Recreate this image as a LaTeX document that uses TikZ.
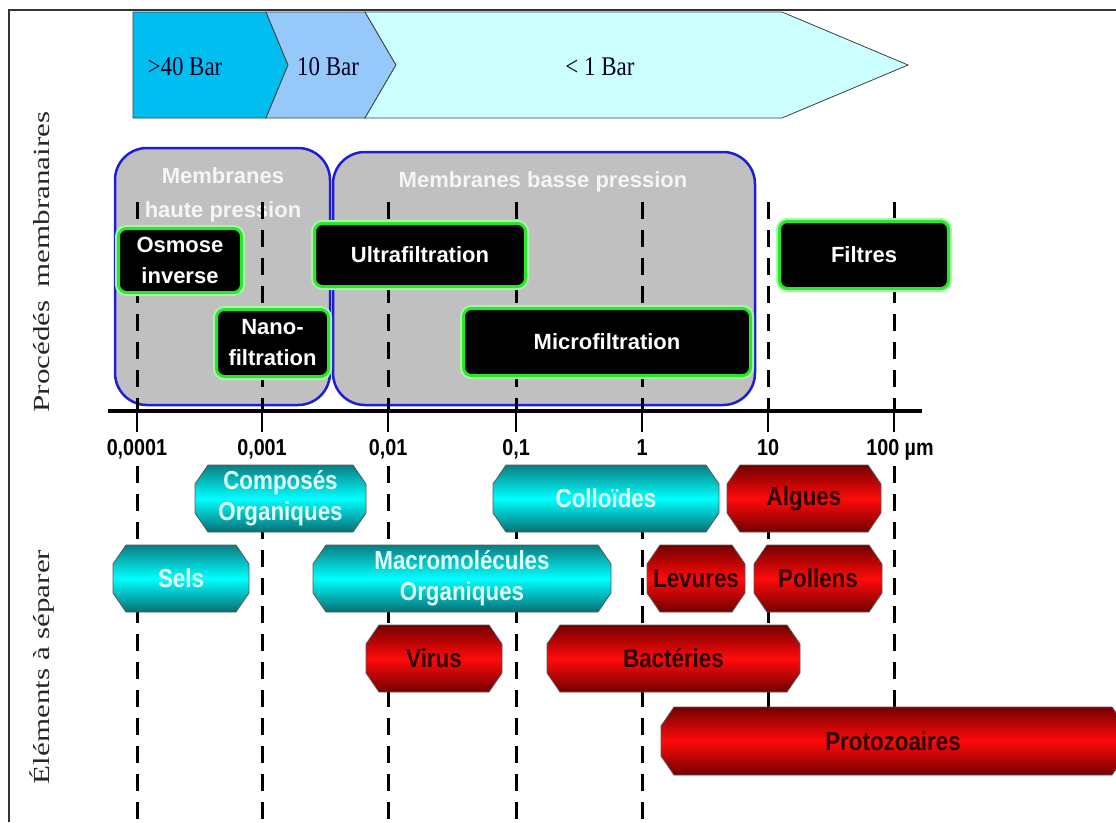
\documentclass[tikz,border=0pt]{standalone}
\usepackage{fontspec}
\setmainfont{Liberation Serif}
\setsansfont{Liberation Sans}
\newfontfamily\elemfont{Liberation Sans}[FakeStretch=0.86]
\newfontfamily\barfont{Liberation Serif}[FakeStretch=0.85]
\newfontfamily\sidefont{Liberation Serif}[FakeStretch=1.35]
\definecolor{cforty}{RGB}{0,190,240}
\definecolor{cten}{RGB}{150,200,250}
\definecolor{cone}{RGB}{204,255,255}
\definecolor{memgray}{RGB}{192,192,192}
\definecolor{memblue}{RGB}{30,30,210}
\definecolor{glowgreen}{RGB}{40,230,40}
\definecolor{cyantop}{RGB}{10,125,130}
\definecolor{cyanbot}{RGB}{8,110,115}
\definecolor{cyanmid}{RGB}{0,255,255}
\definecolor{cyantext}{RGB}{225,255,255}
\definecolor{redtop}{RGB}{115,0,0}
\definecolor{redmid}{RGB}{255,10,10}
\definecolor{redtext}{RGB}{45,0,0}
\newcommand\elem[7]{%
  \path[#6] (#2+13,#3) -- (#4-13,#3) -- (#4,#3+19) -- (#4,#5-19) -- (#4-13,#5) -- (#2+13,#5) -- (#2,#5-19) -- (#2,#3+19) -- cycle;
  \node[#6 text] (#1) at ({(#2+#4)/2},{(#3+#5)/2}) {#7};
}
\begin{document}
\begin{tikzpicture}[x=1pt,y=-1pt,
  barseg/.style={draw=black!75, line width=0.8pt},
  bartext/.style={font=\barfont\fontsize{27}{27}\selectfont, text=black!85!blue},
  sidetext/.style={font=\sidefont\fontsize{23}{23}\selectfont, rotate=90, text=black!85},
  membox/.style={fill=memgray, draw=memblue, line width=2.5pt, rounded corners=32pt},
  memtext/.style={font=\sffamily\bfseries\fontsize{22}{34}\selectfont, text=white!96!black, align=center},
  procbox/.style={fill=black, draw=glowgreen, line width=3pt, rounded corners=8pt, text=white,
    font=\sffamily\bfseries\fontsize{22}{31}\selectfont, align=center, inner sep=0pt,
    preaction={draw=glowgreen!40, line width=7pt}},
  vdash/.style={line width=3pt, dash pattern=on 17pt off 11pt},
  tick/.style={line width=2.5pt},
  axislabel/.style={font=\elemfont\bfseries\fontsize{23}{23}\selectfont, anchor=base},
  cyanel/.style={top color=cyantop, bottom color=cyanbot, middle color=cyanmid, draw=black!65, line width=0.8pt},
  redel/.style={top color=redtop, bottom color=redtop, middle color=redmid, draw=black!65, line width=0.8pt},
  cyanel text/.style={font=\elemfont\bfseries\fontsize{26}{31}\selectfont, text=cyantext, align=center},
  redel text/.style={font=\elemfont\bfseries\fontsize{26}{31}\selectfont, text=redtext, align=center}
]
\useasboundingbox (0,0) rectangle (1116,822);
\clip (0,0) rectangle (1116,822);
\fill[white] (0,0) rectangle (1116,822);

% pressure bar
\path[barseg, fill=cforty] (133,12) -- (266,12) -- (288,65) -- (266,118) -- (133,118) -- cycle;
\path[barseg, fill=cten] (266,12) -- (365,12) -- (396,65) -- (365,118) -- (266,118) -- (288,65) -- cycle;
\path[barseg, fill=cone] (365,12) -- (782,12) -- (908,65) -- (782,118) -- (365,118) -- (396,65) -- cycle;
\node[bartext] (p40) at (185,67) {>40 Bar};
\node[bartext] (p10) at (328,67) {10 Bar};
\node[bartext] (p1) at (600,67) {< 1 Bar};

% frame
\draw[line width=2pt, black!80] (9,822) -- (9,10) -- (1116,10);

% side labels
\node[sidetext] (lproc) at (42,262) {Procédés\hspace{5pt} membranaires};
\node[sidetext] (lelem) at (42,667) {Éléments à séparer};

% membrane families
\draw[membox] (115,148) rectangle (330,405);
\draw[membox] (333,152) rectangle (755,405);
\node[memtext] (mhp) at (223,195) {Membranes\\haute pression};
\node[memtext] (mbp) at (543,182) {Membranes basse pression};

% upper dashed lines and ticks
\foreach \x in {137,262,388,516,642,768,894}{
  \draw[vdash] (\x,202) -- (\x,411);
  \draw[tick] (\x,400) -- (\x,432);
}
\draw[line width=4pt] (108,411) -- (922,411);

% processes
\node[procbox, minimum width=123pt, minimum height=64pt] (osm) at (180,260.5) {Osmose\\inverse};
\node[procbox, minimum width=112pt, minimum height=67pt] (nano) at (272.5,343) {Nano-\\filtration};
\node[procbox, minimum width=211pt, minimum height=63pt] (ultra) at (420,255) {Ultrafiltration};
\node[procbox, minimum width=287pt, minimum height=67pt] (micro) at (607,342) {Microfiltration};
\node[procbox, minimum width=169pt, minimum height=67pt] (filt) at (864,255) {Filtres};

% axis labels
\node[axislabel] (a1) at (137,455) {0,0001};
\node[axislabel] (a2) at (262,455) {0,001};
\node[axislabel] (a3) at (388,455) {0,01};
\node[axislabel] (a4) at (516,455) {0,1};
\node[axislabel] (a5) at (642,455) {1};
\node[axislabel] (a6) at (768,455) {10};
\node[axislabel] (a7) at (900,455) {100 µm};

% lower dashed lines
\foreach \x in {137,262,388,516,642}{
  \draw[vdash] (\x,466) -- (\x,822);
}
\foreach \x in {768,894}{
  \draw[vdash] (\x,466) -- (\x,707);
}

% elements
\elem{comp}{195}{465}{366}{532}{cyanel}{Composés\\Organiques}
\elem{coll}{493}{465}{719}{532}{cyanel}{Colloïdes}
\elem{alg}{727}{465}{881}{532}{redel}{Algues}
\elem{sels}{113}{545}{249}{612}{cyanel}{Sels}
\elem{macro}{313}{545}{611}{612}{cyanel}{Macromolécules\\Organiques}
\elem{lev}{647}{545}{745}{612}{redel}{Levures}
\elem{pol}{754}{545}{882}{612}{redel}{Pollens}
\elem{vir}{366}{625}{502}{692}{redel}{Virus}
\elem{bac}{547}{625}{800}{692}{redel}{Bactéries}
\elem{proto}{661}{707}{1125}{775}{redel}{Protozoaires}
\end{tikzpicture}
\end{document}
